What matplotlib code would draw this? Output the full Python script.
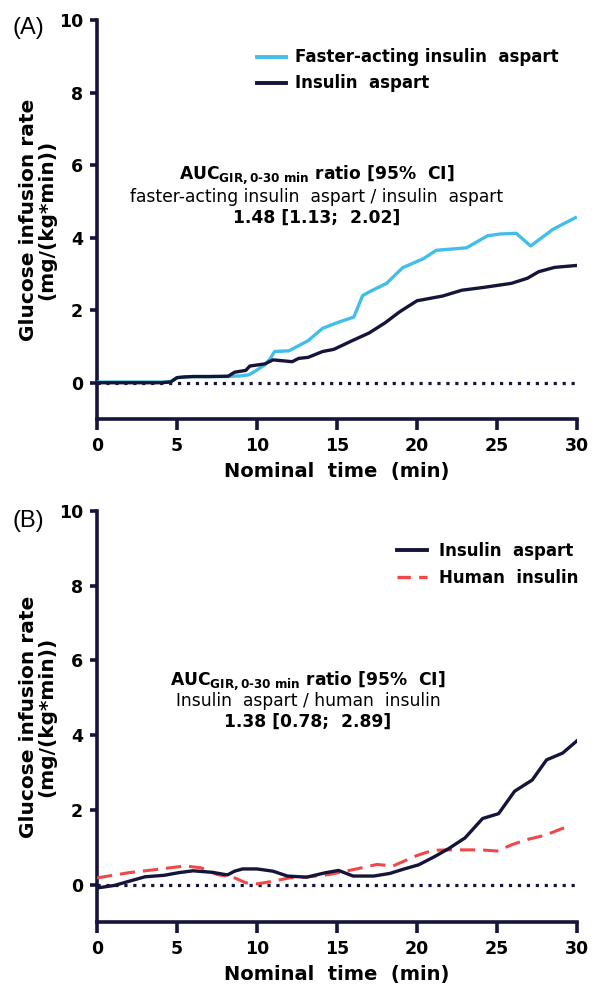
import matplotlib
matplotlib.use("Agg")
import matplotlib.pyplot as plt
from matplotlib.lines import Line2D

plt.rcParams['font.family'] = ['DejaVu Sans']
plt.rcParams['mathtext.fontset'] = 'dejavusans'

# ---------------- data ----------------
# Panel A
a_fast_t = [0, 1, 2, 3, 4, 4.6, 5.0, 5.5, 6, 7, 8, 8.5, 9, 9.5, 10, 10.5, 10.8, 11.1, 12,
            13.2, 14.1, 15.1, 16.05, 16.6, 17, 18.1, 19.1, 20.4, 21.2, 23.1, 24.4, 25.2,
            26.2, 27.1, 28.5, 29.9]
a_fast_v = [0.02, 0.02, 0.02, 0.02, 0.02, 0.03, 0.14, 0.16, 0.17, 0.17, 0.17, 0.18, 0.19, 0.22,
            0.35, 0.50, 0.65, 0.86, 0.88, 1.16, 1.50, 1.67, 1.81, 2.40, 2.50, 2.74, 3.17, 3.42,
            3.65, 3.72, 4.05, 4.10, 4.12, 3.77, 4.23, 4.55]

a_asp_t = [0, 1, 2, 3, 4, 4.6, 5.0, 5.5, 6, 7, 8.2, 8.6, 9.3, 9.55, 10.5, 11, 12.2, 12.6, 13.2,
           14.1, 14.8, 16, 17, 18, 18.9, 20, 21.6, 22.8, 24.2, 25.9, 26.9, 27.6, 28.6, 29.9]
a_asp_v = [0.0, 0.0, 0.0, 0.0, 0.0, 0.02, 0.14, 0.16, 0.17, 0.17, 0.18, 0.29, 0.34, 0.46, 0.52,
           0.63, 0.58, 0.67, 0.70, 0.86, 0.92, 1.17, 1.37, 1.65, 1.95, 2.26, 2.39, 2.55, 2.63,
           2.74, 2.88, 3.06, 3.18, 3.23]

# Panel B
b_asp_t = [0, 1.1, 2, 3, 4.2, 5.1, 6, 7.2, 8.15, 8.6, 9.1, 10, 11, 11.9, 13.1, 14.3, 15.1, 16,
           17.3, 18.3, 19.2, 20.1, 21.1, 22, 23, 24.1, 25.1, 26.1, 27.2, 28.1, 29.1, 30]
b_asp_v = [-0.09, -0.02, 0.09, 0.21, 0.25, 0.32, 0.37, 0.33, 0.26, 0.36, 0.42, 0.42, 0.36, 0.23,
           0.20, 0.32, 0.38, 0.23, 0.23, 0.30, 0.42, 0.53, 0.75, 0.97, 1.25, 1.77, 1.90, 2.50,
           2.80, 3.34, 3.52, 3.85]

b_hum_t = [0, 2, 4, 5.5, 6.5, 7.5, 8.5, 9.3, 10, 11, 12, 13, 14.5, 16, 17.5, 18.5, 20, 21, 22,
           23, 24, 25, 26, 27, 28, 29, 29.6]
b_hum_v = [0.18, 0.32, 0.42, 0.50, 0.45, 0.27, 0.20, 0.05, 0.02, 0.09, 0.18, 0.20, 0.27, 0.40,
           0.54, 0.50, 0.78, 0.92, 0.93, 0.93, 0.93, 0.90, 1.08, 1.22, 1.32, 1.49, 1.58]

x_ticks = [0, 5, 10, 15, 20, 25, 30]
y_ticks = [0, 2, 4, 6, 8, 10]

label_a = ["Faster-acting insulin  aspart", "Insulin  aspart"]
label_b = ["Insulin  aspart", "Human  insulin"]
auc_a = ["faster-acting insulin  aspart / insulin  aspart", "1.48 [1.13;  2.02]"]
auc_b = ["Insulin  aspart / human  insulin", "1.38 [0.78;  2.89]"]

# ---------------- style ----------------
NAVY = '#15153a'
BLUE = '#42bfe9'
RED = '#f04848'
W, H = 602, 992
TICK_FS = 12.5
LAB_FS = 14
LEG_FS = 12
AUC_FS = 12.3

fig = plt.figure(figsize=(W / 100, H / 100), dpi=100)


def px_ax(left, right, top, bottom):
    return [left / W, 1 - bottom / H, (right - left) / W, (bottom - top) / H]


def style_axes(ax, top_px, bottom_px):
    ax.set_xlim(0, 30)
    ax.set_ylim(-1, 10)
    for s in ['top', 'right']:
        ax.spines[s].set_visible(False)
    for s in ['left', 'bottom']:
        ax.spines[s].set_linewidth(2.6)
        ax.spines[s].set_color(NAVY)
        ax.spines[s].set_capstyle('projecting')
    ax.set_xticks(x_ticks)
    ax.set_yticks(y_ticks)
    ax.tick_params(axis='x', length=8, width=2.6, color=NAVY, pad=5, labelsize=TICK_FS)
    ax.tick_params(axis='y', length=5, width=2.6, color=NAVY, pad=5, labelsize=TICK_FS)
    for lab in ax.get_xticklabels() + ax.get_yticklabels():
        lab.set_fontweight('bold')
    ax.set_xlabel('Nominal  time  (min)', fontsize=LAB_FS, fontweight='bold')
    ax.set_ylabel('Glucose infusion rate\n(mg/(kg*min))', fontsize=14.5, fontweight='bold',
                  linespacing=0.95)
    hpx = bottom_px - top_px
    ax.xaxis.set_label_coords(0.5, -(462 - 419) / hpx)
    ax.yaxis.set_label_coords(-(97 - 56) / 480, 0.5)
    ax.plot([0, 30], [0, 0], linestyle=(0, (1, 1.8)), color=NAVY, lw=2.3, zorder=1)
    ax.patch.set_alpha(0)


auc_title = r'AUC$_{\mathbf{GIR,0‐30\ min}}$ ratio [95%  CI]'

# ---- Panel A ----
axA = fig.add_axes(px_ax(97, 577, 20, 419))
style_axes(axA, 20, 419)
axA.plot(a_fast_t, a_fast_v, color=BLUE, lw=2.4, zorder=3, solid_joinstyle='round')
axA.plot(a_asp_t, a_asp_v, color=NAVY, lw=2.4, zorder=4, solid_joinstyle='round')
hA = [Line2D([], [], color=BLUE, lw=2.8), Line2D([], [], color=NAVY, lw=2.8)]
axA.legend(hA, label_a, loc='upper left', bbox_to_anchor=((257 - 97) / 480, (419 - 48.5) / 399),
           frameon=False, prop={'weight': 'bold', 'size': LEG_FS}, handlelength=1.75,
           handletextpad=0.55, labelspacing=0.48, borderpad=0, borderaxespad=0)
fig.text(317 / W, 1 - 175 / H, auc_title, ha='center', va='center', fontsize=AUC_FS, fontweight='bold')
fig.text(317 / W, 1 - 197 / H, auc_a[0], ha='center', va='center', fontsize=AUC_FS)
fig.text(317 / W, 1 - 218 / H, auc_a[1], ha='center', va='center', fontsize=AUC_FS, fontweight='bold')
fig.text(13 / W, 1 - 28 / H, '(A)', ha='left', va='center', fontsize=17, family='Liberation Sans')

# ---- Panel B ----
axB = fig.add_axes(px_ax(97, 577, 511, 922))
style_axes(axB, 511, 922)
axB.plot(b_asp_t, b_asp_v, color=NAVY, lw=2.4, zorder=4, solid_joinstyle='round')
axB.plot(b_hum_t, b_hum_v, color=RED, lw=2.2, zorder=3, linestyle=(0, (5, 2.6)))
hB = [Line2D([], [], color=NAVY, lw=2.8), Line2D([], [], color=RED, lw=2.4, linestyle=(0, (4, 2.5)))]
axB.legend(hB, label_b, loc='upper left', bbox_to_anchor=((397 - 97) / 480, (922 - 541.5) / 411),
           frameon=False, prop={'weight': 'bold', 'size': LEG_FS}, handlelength=1.8,
           handletextpad=0.7, labelspacing=0.58, borderpad=0, borderaxespad=0)
fig.text(308 / W, 1 - 681 / H, auc_title, ha='center', va='center', fontsize=AUC_FS, fontweight='bold')
fig.text(308 / W, 1 - 701 / H, auc_b[0], ha='center', va='center', fontsize=AUC_FS)
fig.text(308 / W, 1 - 722 / H, auc_b[1], ha='center', va='center', fontsize=AUC_FS, fontweight='bold')
fig.text(13 / W, 1 - 521 / H, '(B)', ha='left', va='center', fontsize=17, family='Liberation Sans')

fig.savefig('out.png', dpi=100, facecolor='white')
